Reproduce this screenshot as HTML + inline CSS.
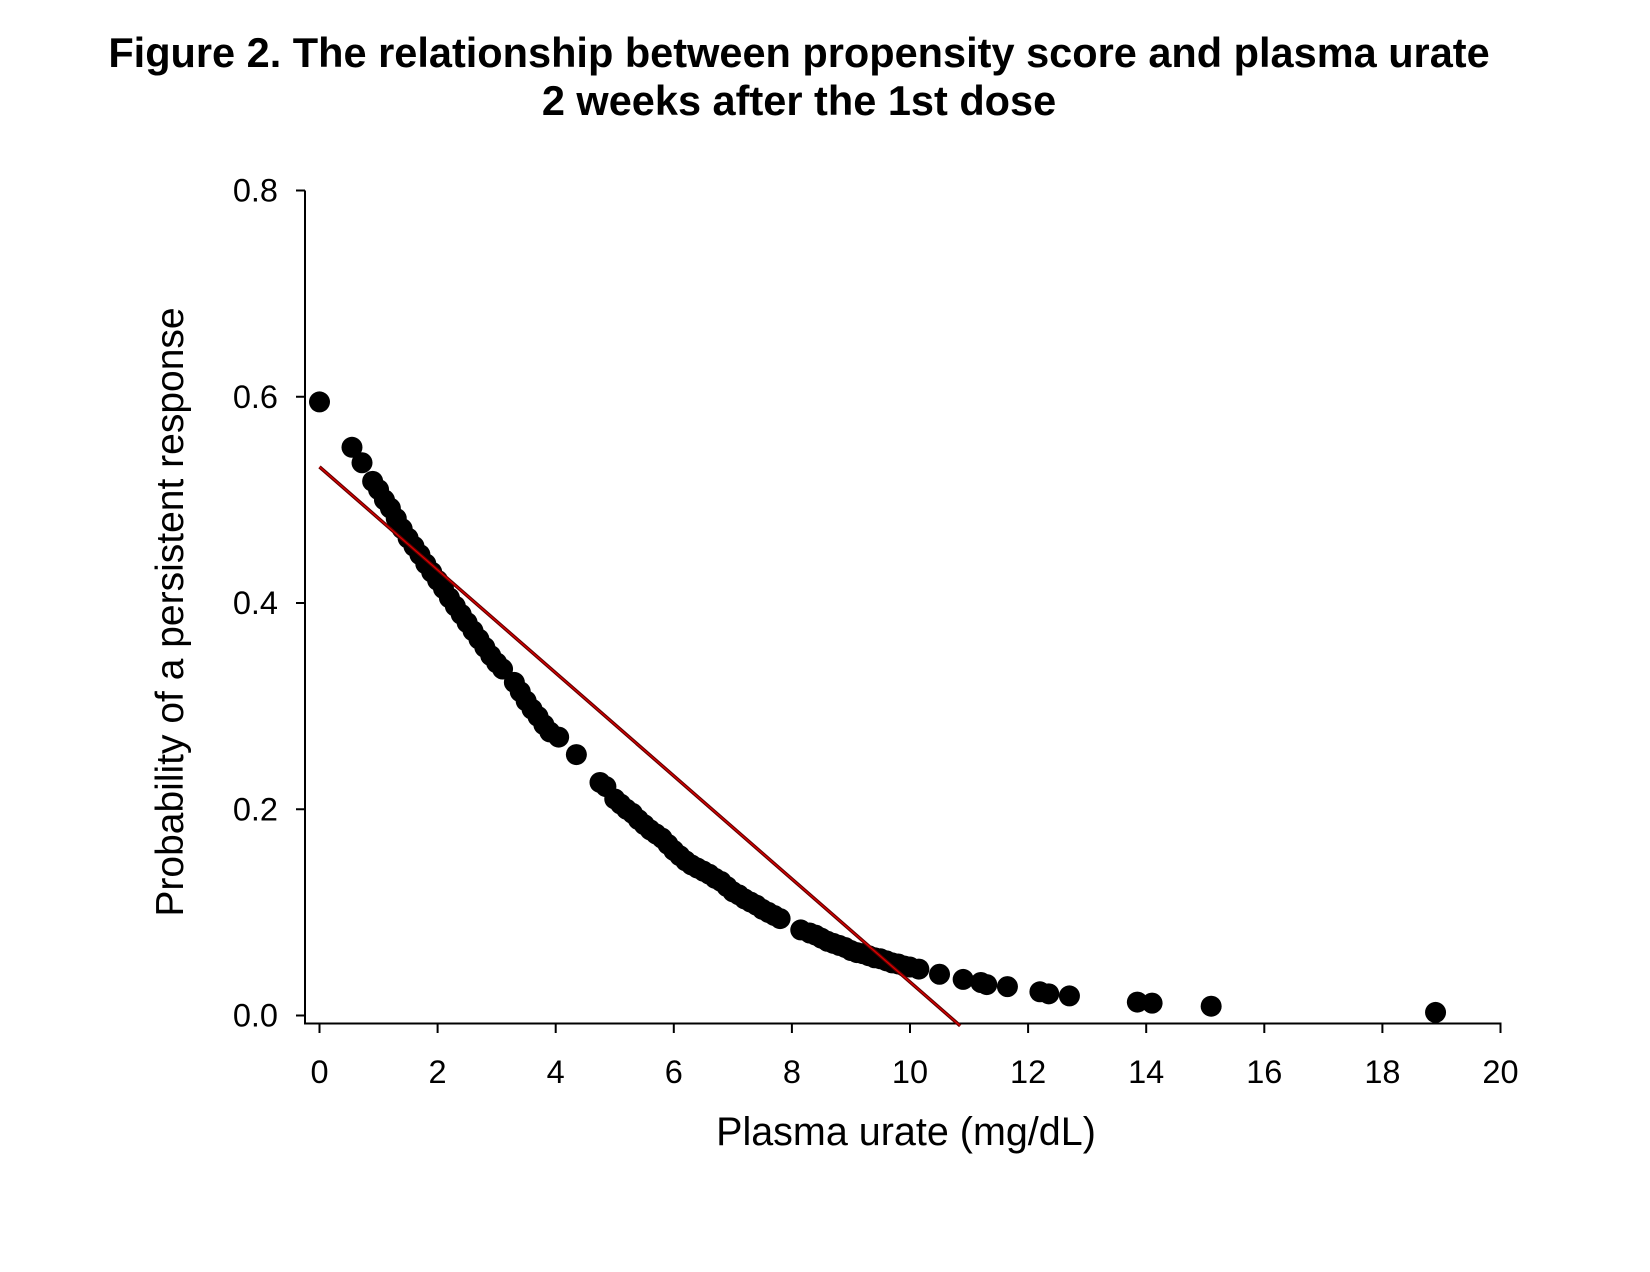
<!DOCTYPE html>
<html><head><meta charset="utf-8">
<style>
html,body{margin:0;padding:0;background:#fff;}
svg{display:block;font-family:"Liberation Sans",Arial,sans-serif;}
</style></head>
<body>
<svg id="chart" width="1650" height="1272" viewBox="0 0 1650 1272">
  <text x="799" y="67" text-anchor="middle" font-size="41.5" font-weight="bold">Figure 2. The relationship between propensity score and plasma urate</text>
  <text x="799" y="115" text-anchor="middle" font-size="41.5" font-weight="bold">2 weeks after the 1st dose</text>
  <g id="axes"></g>
  <g id="points"></g>
  <g id="fit"></g>
  <text x="906" y="1145" text-anchor="middle" font-size="39.5">Plasma urate (mg/dL)</text>
  <text transform="translate(183,612) rotate(-90)" text-anchor="middle" font-size="39">Probability of a persistent response</text>
</svg>
<script>
const xTicks = [0,2,4,6,8,10,12,14,16,18,20];
const yTicks = [0.0,0.2,0.4,0.6,0.8];
const yTickLabels = ["0.0","0.2","0.4","0.6","0.8"];
const urate = [0,0.55,0.72,0.9,1.0,1.1,1.2,1.3,1.4,1.5,1.6,1.7,1.8,1.9,2.0,2.1,2.2,2.3,2.4,2.5,2.6,2.7,2.8,2.9,3.0,3.1,3.3,3.4,3.5,3.6,3.7,3.8,3.9,4.05,4.35,4.75,4.85,5.0,5.1,5.2,5.3,5.4,5.5,5.6,5.7,5.8,5.9,6.0,6.1,6.2,6.3,6.4,6.5,6.6,6.7,6.8,6.9,7.0,7.1,7.2,7.3,7.4,7.5,7.6,7.7,7.8,8.15,8.3,8.4,8.5,8.6,8.7,8.8,8.9,9.0,9.1,9.2,9.3,9.4,9.5,9.6,9.7,9.8,9.9,10.0,10.15,10.5,10.9,11.2,11.3,11.65,12.2,12.35,12.7,13.85,14.1,15.1,18.9];
const prob = [0.595,0.551,0.536,0.518,0.51,0.50,0.492,0.482,0.472,0.463,0.455,0.447,0.438,0.43,0.422,0.414,0.405,0.397,0.389,0.381,0.373,0.365,0.357,0.349,0.342,0.336,0.323,0.314,0.305,0.297,0.29,0.282,0.275,0.27,0.253,0.226,0.222,0.21,0.205,0.2,0.196,0.19,0.185,0.18,0.176,0.172,0.166,0.16,0.155,0.15,0.146,0.143,0.14,0.137,0.133,0.13,0.125,0.12,0.117,0.113,0.11,0.107,0.103,0.1,0.097,0.094,0.083,0.08,0.078,0.075,0.072,0.07,0.068,0.066,0.063,0.061,0.06,0.058,0.056,0.055,0.053,0.051,0.05,0.048,0.047,0.045,0.04,0.035,0.032,0.03,0.028,0.023,0.021,0.019,0.013,0.012,0.009,0.003];
const fitX = [0,10.85];
const fitY = [0.532,-0.01];

const NS="http://www.w3.org/2000/svg";
function xs(v){return 319.5+(1500.5-319.5)*v/20;}
function ys(v){return 1015.5-(1015.5-190.5)*v/0.8;}
function mk(tag,attrs,parent){const e=document.createElementNS(NS,tag);for(const k in attrs)e.setAttribute(k,attrs[k]);parent.appendChild(e);return e;}

const axes=document.getElementById('axes');
let yl=mk('line',{x1:305,y1:190.5,x2:305,y2:1024,stroke:'#000','stroke-width':2},axes);


let xl=mk('line',{x1:304,y1:1023.5,x2:1501.5,y2:1023.5,stroke:'#000','stroke-width':2},axes);


yTicks.forEach((v,i)=>{
  const y=ys(v);
  let t=mk('line',{x1:296,y1:y,x2:305,y2:y,stroke:'#000','stroke-width':2},axes);
  
  
  let l=mk('text',{x:278,y:y+11,'text-anchor':'end','font-size':32.5},axes);
  
  
  l.textContent=yTickLabels[i];
});
xTicks.forEach(v=>{
  const x=xs(v);
  let t=mk('line',{x1:x,y1:1023.5,x2:x,y2:1033,stroke:'#000','stroke-width':2},axes);
  
  
  let l=mk('text',{x:x,y:1083,'text-anchor':'middle','font-size':32.5},axes);
  
  
  l.textContent=String(v);
});

const pts=document.getElementById('points');
urate.forEach((u,i)=>{
  let c=mk('ellipse',{cx:xs(u),cy:ys(prob[i]),rx:10.5,ry:10.5,fill:'#000'},pts);
  
  
});

const fit=document.getElementById('fit');
let f1=mk('line',{x1:xs(fitX[0]),y1:ys(fitY[0]),x2:xs(fitX[1]),y2:ys(fitY[1]),stroke:'#600000','stroke-width':3.5},fit);


let f2=mk('line',{x1:xs(fitX[0]),y1:ys(fitY[0]),x2:xs(fitX[1]),y2:ys(fitY[1]),stroke:'#e00000','stroke-width':1.2},fit);


</script>
</body></html>
